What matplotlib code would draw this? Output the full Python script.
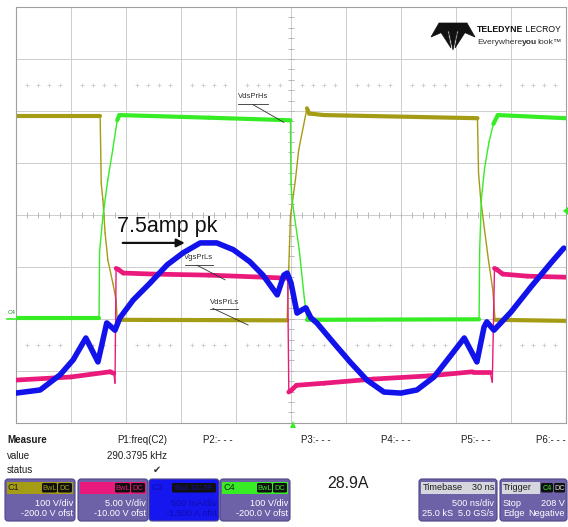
import numpy as np
import matplotlib; matplotlib.use("Agg")
import matplotlib.pyplot as plt
from matplotlib import font_manager
from matplotlib.collections import LineCollection
from matplotlib.patches import FancyBboxPatch, Rectangle, Polygon

# scope traces: time in divisions (500 ns/div), level in divisions above the bottom graticule line
c1_t = [0.0, 1.53, 1.55, 1.58, 1.62, 1.67, 1.76, 1.82, 1.84, 4.93, 4.96, 4.99, 5.08, 5.14, 5.23,
        5.29, 5.33, 5.6, 8.39, 8.41, 8.45, 8.52, 8.59, 8.67, 8.71, 10.0]
c1_y = [5.90, 5.90, 4.60, 4.29, 3.65, 3.13, 2.69, 2.36, 1.98, 1.97, 3.00, 3.97, 4.67, 5.25, 5.73,
        6.05, 5.95, 5.92, 5.86, 4.80, 4.29, 3.70, 3.13, 2.55, 1.98, 1.96]

c4_t = [0.0, 1.51, 1.52, 1.58, 1.67, 1.76, 1.84, 1.88, 3.5, 4.99, 5.00, 5.02, 5.15, 5.24, 5.29,
        8.42, 8.43, 8.46, 8.52, 8.60, 8.68, 8.76, 10.0]
c4_y = [2.02, 2.02, 3.30, 3.97, 4.68, 5.26, 5.82, 5.92, 5.87, 5.82, 4.60, 4.29, 3.32, 2.42, 1.98,
        1.99, 3.30, 4.29, 4.90, 5.40, 5.75, 5.92, 5.86]

c2_t = [0.0, 1.0, 1.71, 1.78, 1.80, 1.82, 1.86, 1.95, 2.5, 3.5, 4.5, 4.94, 4.96, 5.0, 5.1, 5.6,
        6.5, 7.5, 8.3, 8.62, 8.66, 8.70, 8.74, 8.85, 9.3, 10.0]
c2_y = [0.82, 0.88, 0.98, 0.95, 0.76, 2.97, 2.95, 2.88, 2.86, 2.84, 2.80, 2.78, 0.59, 0.62, 0.72,
        0.76, 0.84, 0.90, 0.98, 0.98, 0.78, 2.97, 2.95, 2.86, 2.82, 2.80]

c3_t = [0.00, 0.44, 0.80, 1.04, 1.27, 1.49, 1.65, 1.80, 1.89, 2.13, 2.44, 2.75, 3.04, 3.35, 3.65,
        3.95, 4.25, 4.49, 4.75, 4.87, 4.93, 5.00, 5.11, 5.20, 5.27, 5.36, 5.47, 5.78, 6.09, 6.38,
        6.69, 7.00, 7.29, 7.60, 7.91, 8.15, 8.38, 8.51, 8.56, 8.69, 9.00, 9.36, 9.73, 9.96]
c3_y = [0.57, 0.63, 0.92, 1.21, 1.63, 1.17, 1.92, 1.78, 2.02, 2.36, 2.69, 3.04, 3.27, 3.46, 3.46,
        3.33, 3.10, 2.84, 2.46, 2.84, 2.88, 2.69, 2.11, 2.17, 2.21, 2.02, 1.92, 1.53, 1.15, 0.82,
        0.59, 0.57, 0.63, 0.88, 1.30, 1.63, 1.17, 1.84, 1.94, 1.78, 2.13, 2.61, 3.08, 3.36]

# bottom panel readouts
meas_rows = ["Measure", "value", "status"]
param_names = ["P1:freq(C2)", "P2:- - -", "P3:- - -", "P4:- - -", "P5:- - -", "P6:- - -"]
p1_value = "290.3795 kHz"
chan_names = ["C1", "C2", "C3", "C4"]
chan_vdiv = ["100 V/div", "5.00 V/div", "500 mA/div", "100 V/div"]
chan_ofst = ["-200.0 V ofst", "-10.00 V ofst", "-1.500 A ofst", "-200.0 V ofst"]
peak_reading = "28.9A"

OLIVE, MAG, BLUE, GREEN = "#a39c14", "#ea1a7c", "#1212ea", "#36ec24"
GRID = "#cdcdcd"; PURPLE = "#6d62a8"

names = {f.name for f in font_manager.fontManager.ttflist}
NAR = "Liberation Sans Narrow" in names
NFAM = ["Liberation Sans Narrow", "Liberation Sans", "DejaVu Sans"] if NAR else ["Liberation Sans", "DejaVu Sans"]
def fs(x): return x if NAR else x * 0.88
plt.rcParams["font.family"] = ["Liberation Sans", "DejaVu Sans"]

W, H = 568, 527
fig = plt.figure(figsize=(W / 100, H / 100), dpi=100)
ax = fig.add_axes([16 / W, (H - 422.7) / H, 550 / W, 415.7 / H])
ax.set_xlim(0, 10); ax.set_ylim(0, 8)
ax.set_xticks([]); ax.set_yticks([])
for s in ax.spines.values():
    s.set_color("#a0a0a0"); s.set_linewidth(0.8)

# graticule
for xv in range(1, 10):
    ax.axvline(xv, color=GRID, lw=0.7, zorder=0)
for yv in range(1, 8):
    ax.axhline(yv, color=GRID, lw=0.7, zorder=0)
mx = np.arange(0.2, 10, 0.2); my = np.arange(0.2, 8, 0.2)
ax.plot(mx, np.full_like(mx, 4), ls="none", marker="|", ms=4, mew=0.7, color="#b8b8b8", zorder=0)
ax.plot(np.full_like(my, 5), my, ls="none", marker="_", ms=4, mew=0.7, color="#b8b8b8", zorder=0)
dots = mx[np.abs(mx - np.round(mx)) > 0.05]
for yr in (6.5, 1.5):
    ax.plot(dots, np.full_like(dots, yr), ls="none", marker="+", ms=2.5, mew=0.5, color="#c4c4c4", zorder=0)


def trace(t, y, color, lw, z):
    pts = np.column_stack([t, y])
    seg = np.stack([pts[:-1], pts[1:]], axis=1)
    d = np.diff(pts, axis=0)
    steep = np.abs(d[:, 1]) > 4 * np.abs(d[:, 0])
    ax.add_collection(LineCollection(seg, colors=color, linewidths=np.where(steep, 1.0, lw),
                                     capstyle="round", zorder=z))


trace(c1_t, c1_y, OLIVE, 3.0, 2)
trace(c2_t, c2_y, MAG, 3.4, 3)
trace(c4_t, c4_y, GREEN, 3.0, 4)
ax.plot(c3_t, c3_y, color=BLUE, lw=4.0, solid_joinstyle="round", solid_capstyle="round", zorder=5)

# probe labels with underline + leader
for txt, x0, x1, yt, lead in [("VdsPrHs", 4.04, 4.58, 6.27, ((4.31, 6.12), (4.87, 5.78))),
                              ("VgsPrLs", 3.07, 3.58, 3.17, ((3.29, 3.03), (3.80, 2.75))),
                              ("VdsPrLs", 3.53, 4.04, 2.32, ((3.58, 2.20), (4.22, 1.88)))]:
    ax.text((x0 + x1) / 2, yt, txt, fontsize=5.5, ha="center", va="center", color="#303030", zorder=6)
    ax.plot([x0, x1], [yt - 0.13, yt - 0.13], color="#303030", lw=0.6, zorder=6)
    ax.plot(*zip(*lead), color="#303030", lw=0.6, zorder=6)

ax.text(1.84, 3.67, "7.5amp pk", fontsize=15.5, color="#111111", va="baseline", zorder=7)
ax.annotate("", xy=(3.12, 3.46), xytext=(1.89, 3.46),
            arrowprops=dict(arrowstyle="-|>", color="#111111", lw=1.6, mutation_scale=12), zorder=7)

# pixel overlay for readouts, logo and markers
ov = fig.add_axes([0, 0, 1, 1], zorder=5)
ov.set_xlim(0, W); ov.set_ylim(H, 0); ov.axis("off"); ov.patch.set_alpha(0)

# Teledyne logo
for poly in ([(431, 37), (439, 23), (467, 23), (475, 37), (461, 31), (445, 31)],
             [(448.5, 29), (457.5, 29), (453, 50)],
             [(440, 31), (447.5, 30), (451, 48)],
             [(466, 31), (458.5, 30), (455, 48)]):
    ov.add_patch(Polygon(poly, closed=True, fc="#111111", ec="#111111", lw=0.5))
LOGO = 6.2 if not NAR else 7.6
t1 = ov.text(477, 29, "TELEDYNE", fontsize=LOGO, fontweight="bold", family=NFAM, va="center", color="#111111")
ov.annotate(" LECROY", xy=(1, 0.5), xycoords=t1, fontsize=LOGO, family=NFAM, va="center", color="#111111")
e1 = ov.text(477, 42, "Everywhere", fontsize=LOGO - 0.1, family=NFAM, va="center", color="#333333")
e2 = ov.annotate("you", xy=(1, 0.5), xycoords=e1, fontsize=LOGO - 0.1, family=NFAM, fontweight="bold",
                 va="center", color="#333333")
ov.annotate("look\u2122", xy=(1, 0.5), xycoords=e2, fontsize=LOGO - 0.1, family=NFAM, va="center", color="#333333")

# ground / trigger markers
ov.text(12, 312, "C4", fontsize=4.5, family=NFAM, ha="center", va="center", color="#2a8a2a")
ov.plot([7, 16], [318.5, 318.5], color=GREEN, lw=1.2)
ov.add_patch(Polygon([(290, 428), (296, 428), (293, 421)], fc=GREEN, ec="none"))
ov.add_patch(Polygon([(568, 207), (568, 215), (563, 211)], fc=GREEN, ec="none"))

# measure table
TXT = "#1e1e1e"
for row, yv in zip(meas_rows, (440, 456, 470)):
    ov.text(7, yv, row, fontsize=fs(8), family=NFAM, va="center", color=TXT,
            fontweight="bold" if row == "Measure" else "normal")
px = [167, 203, 301, 381, 461, 536]
ov.text(px[0], 440, param_names[0], fontsize=fs(8), family=NFAM, va="center", ha="right", color=TXT)
ov.text(px[0], 456, p1_value, fontsize=fs(8), family=NFAM, va="center", ha="right", color=TXT)
ov.text(157, 470, "\u2714", fontsize=7, family=["DejaVu Sans"], va="center", ha="center", color="#333333")
for name, xv in zip(param_names[1:], px[1:]):
    ov.text(xv, 440, name, fontsize=fs(8), family=NFAM, va="center", color=TXT)
ov.text(327, 484, peak_reading, fontsize=fs(13), family=NFAM, va="center", color=TXT)


def panel(x0, x1, face=PURPLE):
    ov.add_patch(FancyBboxPatch((x0, 479), x1 - x0, 42, boxstyle="round,pad=0,rounding_size=3",
                                fc=face, ec="#4d4488", lw=0.8))


def tag(x0, x1, label, color):
    ov.add_patch(FancyBboxPatch((x0, 483), x1 - x0, 9.5, boxstyle="round,pad=0,rounding_size=1.5",
                                fc="#101010", ec="none"))
    ov.text((x0 + x1) / 2, 488, label, fontsize=fs(6), family=NFAM, ha="center", va="center", color=color)


hdr = [OLIVE, MAG, BLUE, GREEN]
lefts = [5, 78, 149, 220]
for name, vd, of, c, xl in zip(chan_names, chan_vdiv, chan_ofst, hdr, lefts):
    xr = xl + 70
    if name == "C3":
        panel(xl, xr, face="#1616ee")
        tag(xr - 47, xr - 3, "BwL DC 5F", "#10109a")
        body = "#0e0eb0"; head = "#0e0eb0"
    else:
        panel(xl, xr)
        ov.add_patch(Rectangle((xl + 2, 482), xr - xl - 4, 11.5, fc=c, ec="none"))
        tag(xr - 33, xr - 18, "BwL", c)
        tag(xr - 17, xr - 3, "DC", c)
        body = "white"; head = "#202020" if name != "C2" else c
    ov.text(xl + 3, 487.5, name, fontsize=fs(7.5), family=NFAM, va="center", color=head)
    ov.text(xr - 2, 503, vd, fontsize=fs(7.5), family=NFAM, va="center", ha="right", color=body)
    ov.text(xr - 2, 514, of, fontsize=fs(7.5), family=NFAM, va="center", ha="right", color=body)

# timebase / trigger
panel(419, 497)
ov.add_patch(Rectangle((421, 482), 74, 11.5, fc="#d6d6de", ec="none"))
ov.text(423, 487.5, "Timebase", fontsize=fs(7.5), family=NFAM, va="center", color=TXT)
ov.text(494, 487.5, "30 ns", fontsize=fs(7.5), family=NFAM, va="center", ha="right", color=TXT)
ov.text(494, 503, "500 ns/div", fontsize=fs(7.5), family=NFAM, va="center", ha="right", color="white")
ov.text(422, 514, "25.0 kS", fontsize=fs(7.5), family=NFAM, va="center", color="white")
ov.text(494, 514, "5.0 GS/s", fontsize=fs(7.5), family=NFAM, va="center", ha="right", color="white")

panel(500, 567)
ov.add_patch(Rectangle((502, 482), 38, 11.5, fc="#d6d6de", ec="none"))
ov.text(503, 487.5, "Trigger", fontsize=fs(7.5), family=NFAM, va="center", color=TXT)
tag(541, 553, "C4", GREEN)
tag(554, 565, "DC", "#e0e0e0")
ov.text(503, 503, "Stop", fontsize=fs(7.5), family=NFAM, va="center", color="white")
ov.text(565, 503, "208 V", fontsize=fs(7.5), family=NFAM, va="center", ha="right", color="white")
ov.text(503, 514, "Edge", fontsize=fs(7.5), family=NFAM, va="center", color="white")
ov.text(565, 514, "Negative", fontsize=fs(7.5), family=NFAM, va="center", ha="right", color="white")

fig.savefig("out.png", dpi=100)
